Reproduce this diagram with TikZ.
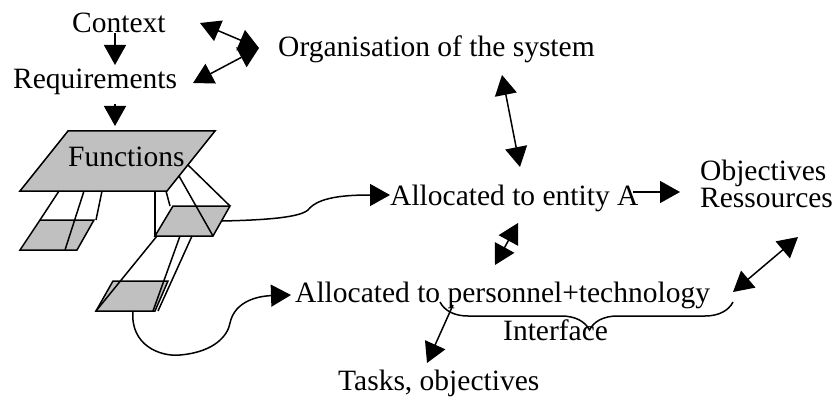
\documentclass[tikz,border=0pt]{standalone}
\usepackage{fontspec}
\setmainfont{Liberation Serif}
\usetikzlibrary{arrows.meta,decorations.pathreplacing}
\definecolor{plane}{RGB}{192,192,192}
\tikzset{
  ln/.style={line width=1.5pt, line join=miter},
  arr/.style={ln, -{Triangle[length=20pt,width=22pt]}},
  darr/.style={ln, {Triangle[length=20pt,width=22pt]}-{Triangle[length=20pt,width=22pt]}},
  plate/.style={ln, fill=plane},
  lbl/.style={inner sep=0pt, anchor=base west, font=\fontsize{29.5}{27}\selectfont},
}
\begin{document}
\begin{tikzpicture}[x=1pt, y=-1pt]
\useasboundingbox (0,0) rectangle (834,398);

% function planes
\draw[plate] (68,131) -- (215,131) -- (167,191) -- (20,191) -- cycle;
\draw[plate] (40,220) -- (94,220) -- (77,250) -- (20,250) -- cycle;
\draw[plate] (173,206) -- (230,206) -- (213,236) -- (155,236) -- cycle;
\draw[plate] (113,281) -- (168,281) -- (155,311) -- (96,311) -- cycle;

% projection lines between the planes
\draw[ln] (59,191) -- (40,220);
\draw[ln] (84,191) -- (65,250);
\draw[ln] (102,191) -- (96,220);
\draw[ln] (155,191) -- (155,236);
\draw[ln] (166,191) -- (170,206);
\draw[ln] (179,176) -- (213,236);
\draw[ln] (188,165) -- (230,206);
\draw[ln] (157,236) -- (96,311);
\draw[ln] (180,236) -- (153,311);
\draw[ln] (192,236) -- (158,311);

% labels
\node[lbl] (ctx) at (72,33) {Context};
\node[lbl] (req) at (13,89) {Requirements};
\node[lbl] (fun) at (68,167) {Functions};
\node[lbl] (org) at (278,57) {Organisation of the system};
\node[lbl] (enta) at (390,205) {Allocated to entity A};
\node[lbl, align=left] (obj) at (700,207) {Objectives\\Ressources};
\node[lbl] (pers) at (295,302) {Allocated to personnel+technology};
\node[lbl] (ifc) at (503,340) {Interface};
\node[lbl] (task) at (338,390) {Tasks, objectives};

% connector end points
\coordinate (c1) at (115,33);
\coordinate (c2) at (115,65);
\coordinate (c3) at (115,104);
\coordinate (c4) at (115,126);
\coordinate (j) at (259,48);
\coordinate (c5) at (200,23);
\coordinate (c6) at (193,83);
\coordinate (c7) at (502,75);
\coordinate (c8) at (520,167);
\coordinate (c9) at (222,221);
\coordinate (c10) at (390,195);
\coordinate (c11) at (633,192);
\coordinate (c12) at (680,192);
\coordinate (c13) at (518,223);
\coordinate (c14) at (495,265);
\coordinate (c15) at (133,311);
\coordinate (c16) at (291,295);
\coordinate (c17) at (798,237);
\coordinate (c18) at (733,292);
\coordinate (c19) at (453,305);
\coordinate (c20) at (427,363);
\coordinate (b1) at (733,302);
\coordinate (b2) at (440,302);

% connectors
\draw[arr] (c1) -- (c2);
\draw[arr] (c3) -- (c4);
\draw[darr] (c5) -- (j);
\draw[darr] (c6) -- (j);
\draw[darr] (c7) -- (c8);
\draw[arr] (c9) .. controls (270,220) and (300,217) .. (308,210)
               .. controls (318,197) and (345,195) .. (c10);
\draw[arr] (c11) -- (c12);
\draw[darr] (c13) -- (c14);
\draw[arr] (c15) .. controls (130,345) and (160,357) .. (180,355)
                 .. controls (215,352) and (228,335) .. (230,323)
                 .. controls (235,300) and (260,296) .. (c16);
\draw[darr] (c17) -- (c18);
\draw[ln, decorate, decoration={brace, amplitude=28pt, aspect=0.49}] (b1) -- (b2);
\draw[arr] (c19) -- (c20);
\end{tikzpicture}
\end{document}
